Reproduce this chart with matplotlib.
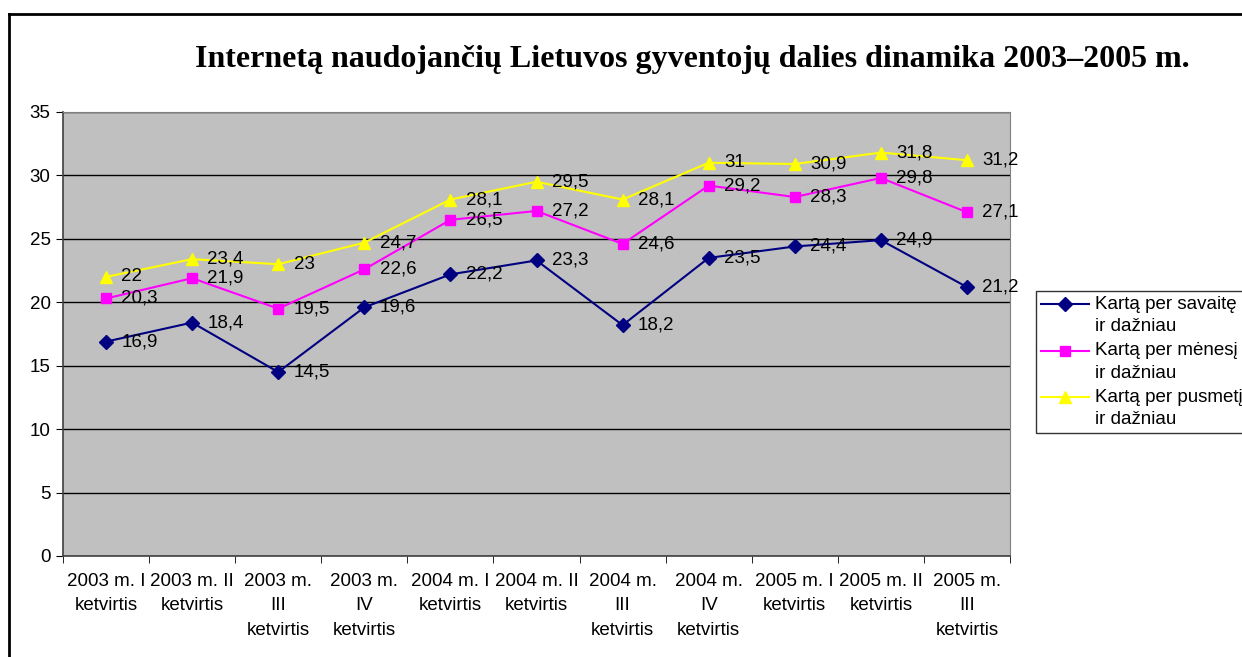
import numpy as np
import matplotlib.pyplot as plt
from matplotlib.lines import Line2D
from matplotlib.legend_handler import HandlerLine2D

# duomenys
kategorijos = ['2003 m. I\nketvirtis', '2003 m. II\nketvirtis', '2003 m.\nIII\nketvirtis',
               '2003 m.\nIV\nketvirtis', '2004 m. I\nketvirtis', '2004 m. II\nketvirtis',
               '2004 m.\nIII\nketvirtis', '2004 m.\nIV\nketvirtis', '2005 m. I\nketvirtis',
               '2005 m. II\nketvirtis', '2005 m.\nIII\nketvirtis']
savaite = [16.9, 18.4, 14.5, 19.6, 22.2, 23.3, 18.2, 23.5, 24.4, 24.9, 21.2]
menesi = [20.3, 21.9, 19.5, 22.6, 26.5, 27.2, 24.6, 29.2, 28.3, 29.8, 27.1]
pusmeti = [22, 23.4, 23, 24.7, 28.1, 29.5, 28.1, 31, 30.9, 31.8, 31.2]
serijos = ['Kartą per savaitę\nir dažniau', 'Kartą per mėnesį\nir dažniau',
           'Kartą per pusmetį\nir dažniau']

plt.rcParams['font.family'] = ['Liberation Sans', 'DejaVu Sans']

W, H = 1242, 657
fs = 13.5


# legendos linija prie pirmos teksto eilutės
class VirsutineLinija(HandlerLine2D):
    def create_artists(self, legend, orig_handle, xdescent, ydescent, width, height, fontsize, trans):
        arts = super().create_artists(legend, orig_handle, xdescent, ydescent, width, height, fontsize, trans)
        for a in arts:
            a.set_ydata(np.asarray(a.get_ydata()) + 0.6 * fontsize)
        return arts


fig = plt.figure(figsize=(W / 100, H / 100), dpi=100)
ax = fig.add_axes([63 / W, 1 - 556 / H, (1010 - 63) / W, (556 - 112) / H])
ax.set_facecolor('#C0C0C0')

x = np.arange(len(kategorijos))
stiliai = [('#000080', 'D', 7), ('#FF00FF', 's', 7), ('#FFFF00', '^', 8.5)]
for vals, name, (c, m, ms) in zip([savaite, menesi, pusmeti], serijos, stiliai):
    ax.plot(x, vals, color=c, lw=1.5, marker=m, ms=ms, mfc=c, mec=c, label=name, zorder=3)
    for xi, v in zip(x, vals):
        ax.annotate(('%g' % v).replace('.', ','), (xi, v), xytext=(11, 0),
                    textcoords='offset points', ha='left', va='center',
                    fontsize=fs, zorder=4)

ax.set_xlim(-0.5, len(kategorijos) - 0.5)
ax.set_ylim(0, 35)
ax.set_yticks(np.arange(0, 36, 5))
ax.yaxis.grid(True, color='black', lw=1)
ax.set_axisbelow(True)
ax.set_xticks(x)
ax.set_xticklabels(kategorijos, fontsize=fs, linespacing=1.6, va='top')
ax.set_xticks(np.arange(-0.5, len(kategorijos), 1), minor=True)
ax.tick_params(axis='x', which='major', length=0, pad=12)
ax.tick_params(axis='x', which='minor', length=5, direction='out')
ax.tick_params(axis='y', length=5, direction='out', labelsize=fs, pad=4)
for s in ['top', 'right']:
    ax.spines[s].set_color('#808080')
for s in ['left', 'bottom']:
    ax.spines[s].set_color('#404040')
    ax.spines[s].set_linewidth(1.2)

fig.text(692 / W, 1 - 59 / H, 'Internetą naudojančių Lietuvos gyventojų dalies dinamika 2003–2005 m.',
         family='Liberation Serif', weight='bold', fontsize=23, ha='center', va='center')

leg = ax.legend(loc='upper left', bbox_to_anchor=(1036 / W, 1 - 291 / H),
                bbox_transform=fig.transFigure, fontsize=fs, frameon=True,
                fancybox=False, edgecolor='black', handlelength=2.6,
                borderpad=0.25, labelspacing=0.4, handletextpad=0.3,
                borderaxespad=0, handler_map={Line2D: VirsutineLinija()})
leg.get_frame().set_linewidth(1)
for t in leg.get_texts():
    t.set_linespacing(1.4)

# ramelis
fig.add_artist(Line2D([9 / W, 1], [1 - 14 / H, 1 - 14 / H], color='black', lw=2,
                      transform=fig.transFigure))
fig.add_artist(Line2D([9 / W, 9 / W], [0, 1 - 14 / H], color='black', lw=2,
                      transform=fig.transFigure))

fig.savefig('out.png', dpi=100)
